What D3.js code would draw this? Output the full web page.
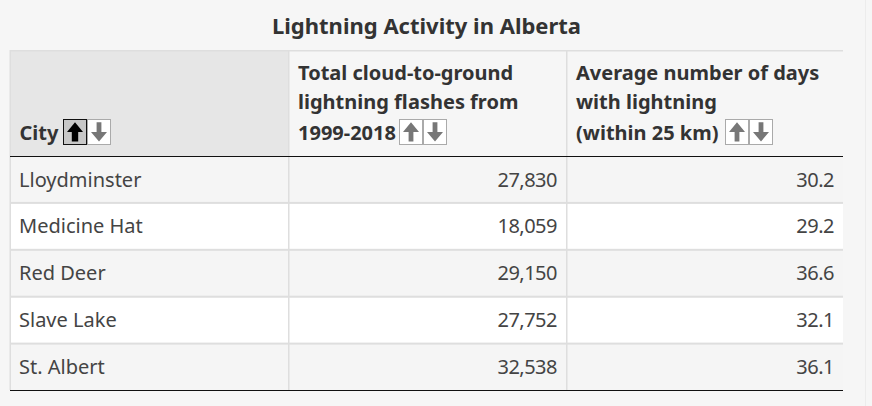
<!DOCTYPE html>
<html>
<head>
<meta charset="utf-8">
<script src="https://cdnjs.cloudflare.com/ajax/libs/d3/7.8.5/d3.min.js"></script>
<style>
html, body { margin: 0; padding: 0; background: #f6f6f6; }
svg { display: block; font-family: "Noto Sans", sans-serif; }
</style>
</head>
<body>
<svg id="chart"></svg>
<script>
const title = 'Lightning Activity in Alberta'
const cities = ['Lloydminster', 'Medicine Hat', 'Red Deer', 'Slave Lake', 'St. Albert']
const flashes = [27830, 18059, 29150, 27752, 32538]
const days = [30.2, 29.2, 36.6, 32.1, 36.1]
const headCity = ['City']
const headFlashes = ['Total cloud-to-ground', 'lightning flashes from', '1999-2018']
const headDays = ['Average number of days', 'with lightning', '(within 25 km)']

const width = 872
const height = 406
const textColor = '#333'
const lineColor = '#dedede'

const svg = d3.select('#chart').attr('width', width).attr('height', height)

const xScale = d3.scaleOrdinal().domain(['city', 'flashes', 'days']).range([11, 289.5, 567.5])
const yScale = d3.scaleBand().domain(cities).range([157, 391.5]).paddingInner(0)

// page edge on the right
svg.append('rect').attr('x', 865).attr('y', 0).attr('width', 1).attr('height', height).attr('fill', '#ececec')

svg.append('text')
    .attr('x', 426.5).attr('y', 33.5)
    .attr('text-anchor', 'middle')
    .attr('font-size', 22).attr('font-weight', 700)
    .attr('fill', textColor)
    .text(title)

// header
svg.append('rect').attr('x', 10).attr('y', 51).attr('width', 278).attr('height', 105).attr('fill', '#e6e6e6')
svg.append('rect').attr('x', 10).attr('y', 50).attr('width', 833).attr('height', 1.5).attr('fill', lineColor)

// rows
svg.selectAll('rect.row')
    .data(cities)
    .enter()
    .append('rect')
    .attr('class', 'row')
    .attr('x', 10)
    .attr('y', d => yScale(d))
    .attr('width', 833)
    .attr('height', yScale.bandwidth() - 1.5)
    .attr('fill', (d, i) => i % 2 === 0 ? '#f5f5f5' : '#fff')

svg.selectAll('rect.sep')
    .data(cities.slice(0, -1))
    .enter()
    .append('rect')
    .attr('class', 'sep')
    .attr('x', 10)
    .attr('y', d => yScale(d) + yScale.bandwidth() - 2)
    .attr('width', 833)
    .attr('height', 2)
    .attr('fill', lineColor)

// vertical lines
;[9.5, 288, 566].forEach(x => {
    svg.append('rect').attr('x', x).attr('y', 50).attr('width', 1.5).attr('height', 340).attr('fill', lineColor)
})

svg.append('rect').attr('x', 10).attr('y', 156).attr('width', 833).attr('height', 1).attr('fill', '#111')
svg.append('rect').attr('x', 10).attr('y', 390).attr('width', 833).attr('height', 1).attr('fill', '#111')

function arrowBox(x, dir, active) {
    const g = svg.append('g').attr('transform', `translate(${x},119)`)
    g.append('rect')
        .attr('x', 0.5).attr('y', 0.5).attr('width', 23).attr('height', 25)
        .attr('fill', active ? '#c8c8c8' : '#fff')
        .attr('stroke', active ? '#111' : '#aaa')
        .attr('stroke-width', 1)
    const s = active ? 3.2 : 2.4
    const arrow = dir === 'up'
        ? `M12 3.3 L20 13 L${12 + s} 13 L${12 + s} 22.5 L${12 - s} 22.5 L${12 - s} 13 L4 13 Z`
        : `M12 22.5 L20 13 L${12 + s} 13 L${12 + s} 3.3 L${12 - s} 3.3 L${12 - s} 13 L4 13 Z`
    g.append('path').attr('d', arrow).attr('fill', active ? '#000' : '#777')
}

function headerCell(lines, key) {
    const x = xScale(key) + 8.5
    const t = svg.append('text')
        .attr('font-size', 20).attr('font-weight', 700).attr('fill', textColor)
    lines.forEach((l, i) => {
        // the last line sits a little lower because of the sort buttons
        const y = i === lines.length - 1 ? 140 : 80 + i * 29
        t.append('tspan').attr('x', x).attr('y', y).text(l)
    })
}

headerCell(headCity, 'city')
arrowBox(63, 'up', true)
arrowBox(87, 'down', false)

headerCell(headFlashes, 'flashes')
arrowBox(399, 'up', false)
arrowBox(423, 'down', false)

headerCell(headDays, 'days')
arrowBox(725, 'up', false)
arrowBox(749, 'down', false)

// body text
const fmt = d3.format(',')
const fmtDays = d3.format('.1f')
const cellText = (sel, y) => sel.attr('font-size', 20).attr('fill', '#444').attr('y', y)

svg.selectAll('text.city').data(cities).enter().append('text')
    .attr('class', 'city')
    .attr('x', 19)
    .call(cellText, d => yScale(d) + 29.5)
    .text(d => d)

svg.selectAll('text.flashes').data(flashes).enter().append('text')
    .attr('class', 'flashes')
    .attr('x', 557)
    .attr('text-anchor', 'end')
    .attr('letter-spacing', -0.5)
    .call(cellText, (d, i) => yScale(cities[i]) + 29.5)
    .text(d => fmt(d))

svg.selectAll('text.days').data(days).enter().append('text')
    .attr('class', 'days')
    .attr('x', 834)
    .attr('text-anchor', 'end')
    .attr('letter-spacing', -0.5)
    .call(cellText, (d, i) => yScale(cities[i]) + 29.5)
    .text(d => fmtDays(d))
</script>
</body>
</html>
